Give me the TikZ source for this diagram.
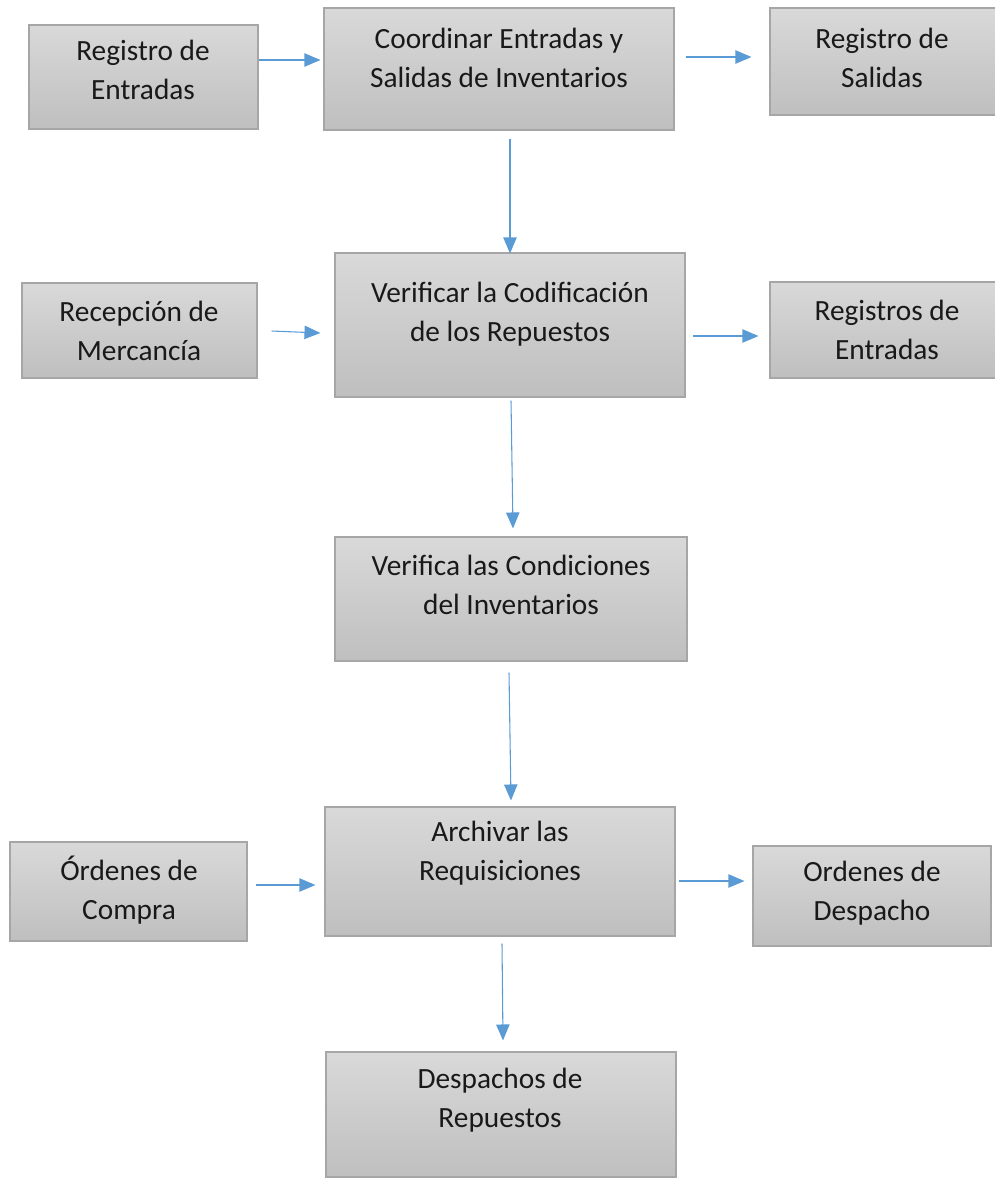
\documentclass[tikz,border=0pt]{standalone}
\usepackage{fontspec}
\setmainfont{Carlito}
\usetikzlibrary{fit,arrows.meta}
\definecolor{boxtop}{HTML}{D9D9D9}
\definecolor{boxbot}{HTML}{BFBFBF}
\definecolor{boxline}{HTML}{A6A6A6}
\definecolor{arrowblue}{HTML}{5B9BD5}
\tikzset{
  box/.style={draw=boxline, line width=0.8pt, top color=boxtop, bottom color=boxbot, inner sep=0pt, rectangle},
  txt/.style={align=center, font=\fontsize{22}{29}\selectfont, text=black!90, inner sep=0pt},
  arr/.style={draw=arrowblue, line width=0.8pt, -{Triangle[length=12pt,width=10pt]}}
}
\begin{document}
\begin{tikzpicture}[x=0.75pt,y=-0.75pt]
\useasboundingbox (0,0) rectangle (995,1178);
\clip (0,0) rectangle (995,1178);
% boxes
\node[box, fit={(29,25) (258,129)}] (b1) {};
\node[box, fit={(324,8) (674,130)}] (b2) {};
\node[box, fit={(770,8) (1000,115)}] (b3) {};
\node[box, fit={(22,283) (257,378)}] (b4) {};
\node[box, fit={(335,253) (685,397)}] (b5) {};
\node[box, fit={(770,282) (1000,378)}] (b6) {};
\node[box, fit={(335,537) (687,661)}] (b7) {};
\node[box, fit={(10,842) (247,941)}] (b8) {};
\node[box, fit={(325,807) (675,936)}] (b9) {};
\node[box, fit={(753,846) (991,946)}] (b10) {};
\node[box, fit={(326,1052) (676,1177)}] (b11) {};
% texts
\node[txt] (t1) at (143,70) {Registro de\\Entradas};
\node[txt] (t2) at (499,58) {Coordinar Entradas y\\Salidas de Inventarios};
\node[txt] (t3) at (882,58) {Registro de\\Salidas};
\node[txt] (t4) at (139,331) {Recepción de\\Mercancía};
\node[txt] (t5) at (510,314) {Verificar la Codificación\\de los Repuestos};
\node[txt] (t6) at (887,330) {Registros de\\Entradas};
\node[txt] (t7) at (511,585) {Verifica las Condiciones\\del Inventarios};
\node[txt] (t8) at (129,890) {Órdenes de\\Compra};
\node[txt] (t9) at (500,853) {Archivar las\\Requisiciones};
\node[txt] (t10) at (872,893) {Ordenes de\\Despacho};
\node[txt] (t11) at (500,1100) {Despachos de\\Repuestos};
% arrows
\draw[arr] ([shift={(0,-17)}]b1.east) -- ([shift={(-3,-9)}]b2.west);
\draw[arr] ([shift={(11,-12)}]b2.east) -- ([shift={(-18,-4.5)}]b3.west);
\draw[arr] ([shift={(11,8)}]b2.south) -- ([shift={(0,1)}]b5.north);
\draw[arr] ([shift={(14,0.5)}]b4.east) -- ([shift={(-14,8)}]b5.west);
\draw[arr] ([shift={(7,11)}]b5.east) -- ([shift={(-11,6)}]b6.west);
\draw[arr] ([shift={(1,3)}]b5.south) -- ([shift={(2,-8)}]b7.north);
\draw[arr] ([shift={(-2,11)}]b7.south) -- ([shift={(11,-6)}]b9.north);
\draw[arr] ([shift={(8,-6.5)}]b8.east) -- ([shift={(-9,13.5)}]b9.west);
\draw[arr] ([shift={(3,9.5)}]b9.east) -- ([shift={(-8,-15)}]b10.west);
\draw[arr] ([shift={(2,7)}]b9.south) -- ([shift={(2,-11)}]b11.north);
\end{tikzpicture}
\end{document}
